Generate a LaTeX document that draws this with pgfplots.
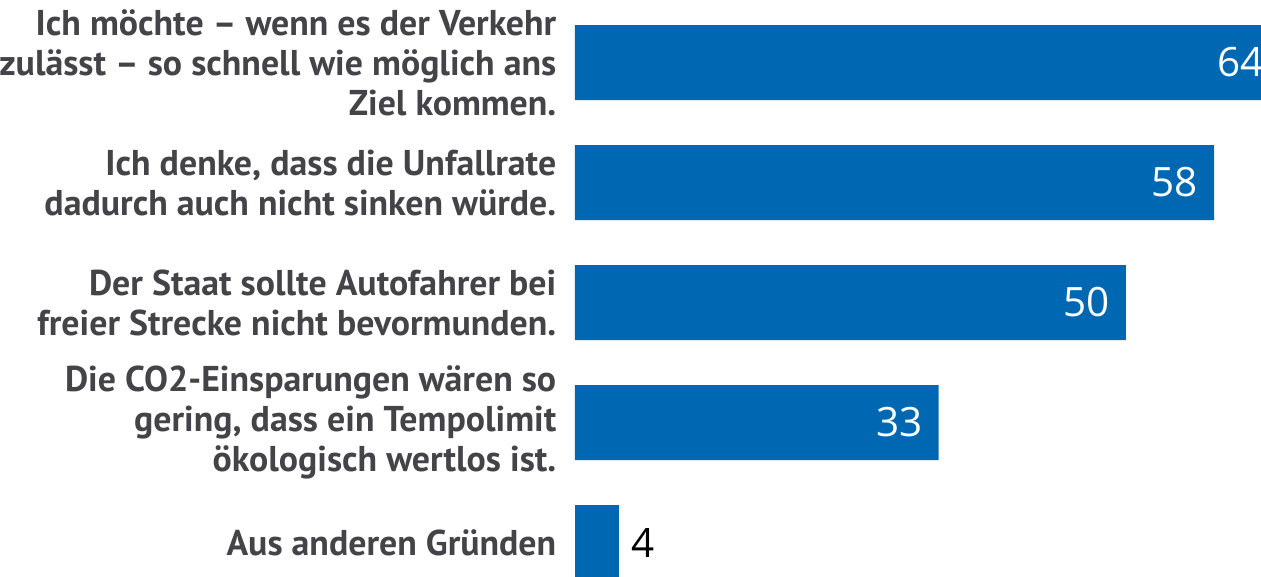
\documentclass[border=0pt]{standalone}
\usepackage{pgfplots}
\pgfplotsset{compat=1.18}
\usepackage{fontspec}
\setmainfont{PT Sans}
\newfontfamily\valfont{Open Sans}
\definecolor{barblue}{RGB}{0,104,178}
\definecolor{labelgray}{RGB}{68,68,72}

\begin{document}
\begin{tikzpicture}
% axis is wider than the page; the page edge cuts the 64 bar like the reference
\begin{axis}[
  at={(0,0)}, anchor=south west,
  scale only axis,
  width=7.273cm, height=5.76cm,
  xbar, bar width=0.75cm, bar shift=0pt,
  xmin=0, xmax=66,
  ymin=-0.521, ymax=4.279,
  y dir=reverse,
  axis line style={draw=none},
  major tick length=0pt,
  xtick=\empty,
  ytick={0,1,2,3,4},
  yticklabels={
    {Ich möchte – wenn es der Verkehr\\zulässt – so schnell wie möglich ans\\Ziel kommen.},
    {Ich denke, dass die Unfallrate\\dadurch auch nicht sinken würde.},
    {Der Staat sollte Autofahrer bei\\freier Strecke nicht bevormunden.},
    {Die CO2-Einsparungen wären so\\gering, dass ein Tempolimit\\ökologisch wertlos ist.},
    {Aus anderen Gründen}},
  yticklabel style={align=right, anchor=east, inner sep=0pt, xshift=-0.18cm,
    font=\fontsize{10.2}{11.4}\selectfont\bfseries, text=labelgray},
  /pgf/number format/assume math mode=true,
]
% Werte in den Balken
\addplot[fill=barblue, draw=none,
  nodes near coords,
  nodes near coords style={anchor=east, xshift=-0.04cm, text=white,
    font=\valfont\fontsize{11.5}{12}\selectfont}]
  coordinates {(64,0) (58,1) (50,2) (33,3)};
% kleiner Balken, Wert daneben
\addplot[fill=barblue, draw=none,
  nodes near coords,
  nodes near coords style={anchor=west, xshift=0cm, text=black,
    font=\valfont\fontsize{11.5}{12}\selectfont}]
  coordinates {(4,4)};
\end{axis}
\pgfresetboundingbox
\path[use as bounding box] (-5.75,0) rectangle (6.86,5.76);
\end{tikzpicture}
\end{document}
